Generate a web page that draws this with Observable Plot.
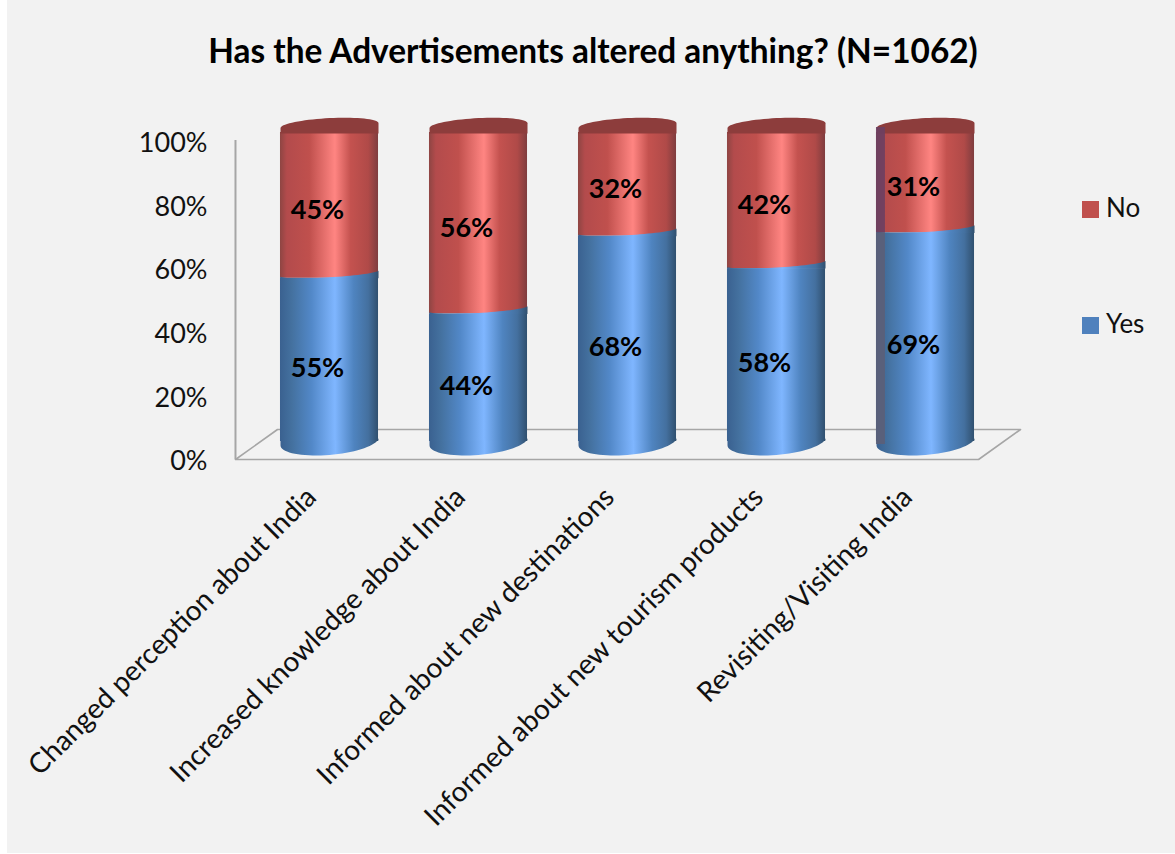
<!DOCTYPE html>
<html>
<head>
<meta charset="utf-8">
<script src="https://cdn.jsdelivr.net/npm/d3@7"></script>
<script src="https://cdn.jsdelivr.net/npm/@observablehq/plot@0.6"></script>
<style>
  html, body { margin: 0; padding: 0; background: #fff; width: 1175px; height: 854px; overflow: hidden; }
  #panel { position: absolute; left: 7px; top: 0; width: 1168px; height: 853px; background: #f2f2f2; font-family: Lato, sans-serif; }
  #title { position: absolute; left: 0; top: 30px; width: 1172px; text-align: center; font-size: 33.4px; font-weight: 700; color: #000; line-height: 40px; white-space: nowrap; }
  #chart { position: absolute; left: 0; top: 88px; }
  .key { position: absolute; left: 1075px; font-size: 26px; color: #111; line-height: 30px; white-space: nowrap; }
  .key i { display: inline-block; width: 17px; height: 17px; margin-right: 7px; vertical-align: -1px; }
</style>
</head>
<body>
<div id="panel">
  <div id="title">Has the Advertisements altered anything? (N=1062)</div>
  <div id="chart"></div>
  <div class="key" style="top:192px"><i style="background:#c0504d"></i>No</div>
  <div class="key" style="top:308px"><i style="background:#4f81bd"></i>Yes</div>
</div>
<script>
// Survey answers, in percent
const categories = [
  "Changed perception about India",
  "Increased knowledge about India",
  "Informed about new destinations",
  "Informed about new tourism products",
  "Revisiting/Visiting India"
];
const yesValues = [55, 44, 68, 58, 69];
const noValues = [45, 56, 32, 42, 31];
const axisTicks = [0, 20, 40, 60, 80, 100];

const rows = categories.map((name, i) => ({name, i, yes: yesValues[i], no: noValues[i]}));

// Half the width of a cylinder on the category axis
const half = 0.329;

// The axis wall stands in front of the cylinders, so it projects slightly differently
const wallY = v => -1.23 + 0.981 * v;

// Floor outline of the pseudo-3D frame, in scale units
const floorLeft = -0.631, floorRight = 4.356, depthX = 0.282;
const floorFront = -0.93, floorBack = 8.33, wallTop = 97.5;
const floor = [
  [floorLeft, floorFront], [floorLeft + depthX, floorBack],
  [floorRight + depthX, floorBack], [floorRight, floorFront], [floorLeft, floorFront]
];

// Tilted ellipse outline with its lowest point at the symbol origin
function ellipsePoints(a, b, slope) {
  const pts = d3.range(73).map(k => {
    const t = k / 72 * 2 * Math.PI;
    return [a * Math.cos(t), b * Math.sin(t) - slope * a * Math.cos(t), t];
  });
  const low = d3.max(pts, p => p[1]);
  return pts.map(([x, y, t]) => [x, y - low, t]);
}
// Region between the front arc of an ellipse and a flat edge at height `edge` (px above the origin)
const frontSymbol = (a, b, slope, edge) => ({
  draw(ctx) {
    const front = ellipsePoints(a, b, slope).filter(p => p[2] <= Math.PI);
    ctx.moveTo(a, -edge);
    front.forEach(([x, y]) => ctx.lineTo(x, y));
    ctx.lineTo(-a, -edge);
    ctx.closePath();
  }
});
// Region between the back arc of an ellipse and the line through the lowest point
const backSymbol = (a, b, slope) => ({
  draw(ctx) {
    const back = ellipsePoints(a, b, slope).filter(p => p[2] >= Math.PI);
    ctx.moveTo(-a, 0);
    back.forEach(([x, y]) => ctx.lineTo(x, y));
    ctx.lineTo(a, 0);
    ctx.closePath();
  }
});

const gradient = (id, stops) =>
  `<linearGradient id="${id}" x1="0" x2="1" y1="0" y2="0">` +
  stops.map(([o, c]) => `<stop offset="${o}" stop-color="${c}"/>`).join("") +
  `</linearGradient>`;

function defs() {
  const g = document.createElementNS("http://www.w3.org/2000/svg", "defs");
  g.innerHTML =
    gradient("redBody", [[0, "#8e4543"], [0.07, "#b34b4c"], [0.3, "#c0504d"], [0.56, "#ff8582"], [0.72, "#c4524f"], [0.9, "#b04a48"], [1, "#7f3d3f"]]) +
    gradient("blueBody", [[0, "#3a6190"], [0.12, "#44719f"], [0.32, "#5288c8"], [0.56, "#7fb6ff"], [0.75, "#4f84c0"], [0.9, "#44709f"], [1, "#30506f"]]);
  return g;
}

const chart = Plot.plot({
  width: 1168,
  height: 765,
  margin: 0,
  style: {background: "transparent", overflow: "visible"},
  x: {type: "linear", domain: [0, 4], range: [322, 918], axis: null},
  y: {type: "linear", domain: [0, 100], range: [368, 44], axis: null},
  marks: [
    defs,
    // Frame: floor outline and the left wall edge
    Plot.line(floor, {x: d => d[0], y: d => d[1], stroke: "#a6a6a6", strokeWidth: 1.6}),
    Plot.ruleX([floorLeft], {y1: floorFront, y2: wallTop, stroke: "#a6a6a6", strokeWidth: 2}),
    // No segments sit behind the Yes segments
    Plot.rect(rows, {
      x1: d => d.i - half, x2: d => d.i + half,
      y1: "yes", y2: d => d.yes + d.no,
      fill: "url(#redBody)"
    }),
    Plot.rect(rows, {
      x1: d => d.i - half, x2: d => d.i + half,
      y1: 0, y2: "yes", insetBottom: 15,
      fill: "url(#blueBody)"
    }),
    // Base of each cylinder, curved boundary between segments and the closed top
    Plot.dot(rows, {x: "i", y: 0, dy: -1, symbol: frontSymbol(49, 13.5, 0.08, 15), fill: "url(#blueBody)"}),
    Plot.dot(rows, {x: "i", y: "yes", symbol: frontSymbol(49, 4, 0.06, 0), fill: "url(#blueBody)"}),
    Plot.dot(rows, {x: "i", y: d => d.yes + d.no, dy: 1, symbol: backSymbol(49, 7.5, 0.05), fill: "#8d3d3c"}),
    // Darker sliver along the left edge of the last cylinder
    Plot.rect(rows.slice(4), {x1: d => d.i - half, x2: d => d.i - half + 0.06, y1: "yes", y2: d => d.yes + d.no, fill: "#6b3f62", fillOpacity: 0.9, insetTop: -5}),
    Plot.rect(rows.slice(4), {x1: d => d.i - half, x2: d => d.i - half + 0.06, y1: 0, y2: "yes", fill: "#5c5f78", fillOpacity: 0.9, insetBottom: 12}),
    // Axis labels
    Plot.text(axisTicks, {
      x: -0.819, y: wallY, text: d => `${d}%`, dy: 1,
      textAnchor: "end", fontSize: 27, fontFamily: "Lato, sans-serif", fill: "#111"
    }),
    Plot.text(rows, {
      x: "i", y: 0, text: "name", rotate: -45, textAnchor: "end",
      dx: -18, dy: 36, fontSize: 28, fontFamily: "Lato, sans-serif", fill: "#111"
    }),
    // Value labels
    Plot.text(rows, {
      x: "i", y: d => d.yes / 2, text: d => `${d.yes}%`, dx: -12, dy: 1,
      fontSize: 27, fontWeight: 700, fontFamily: "Lato, sans-serif", fill: "#000"
    }),
    Plot.text(rows, {
      x: "i", y: d => d.yes + d.no / 2, text: d => `${d.no}%`, dx: -12, dy: 5,
      fontSize: 27, fontWeight: 700, fontFamily: "Lato, sans-serif", fill: "#000"
    })
  ]
});
document.getElementById("chart").append(chart);
</script>
</body>
</html>
